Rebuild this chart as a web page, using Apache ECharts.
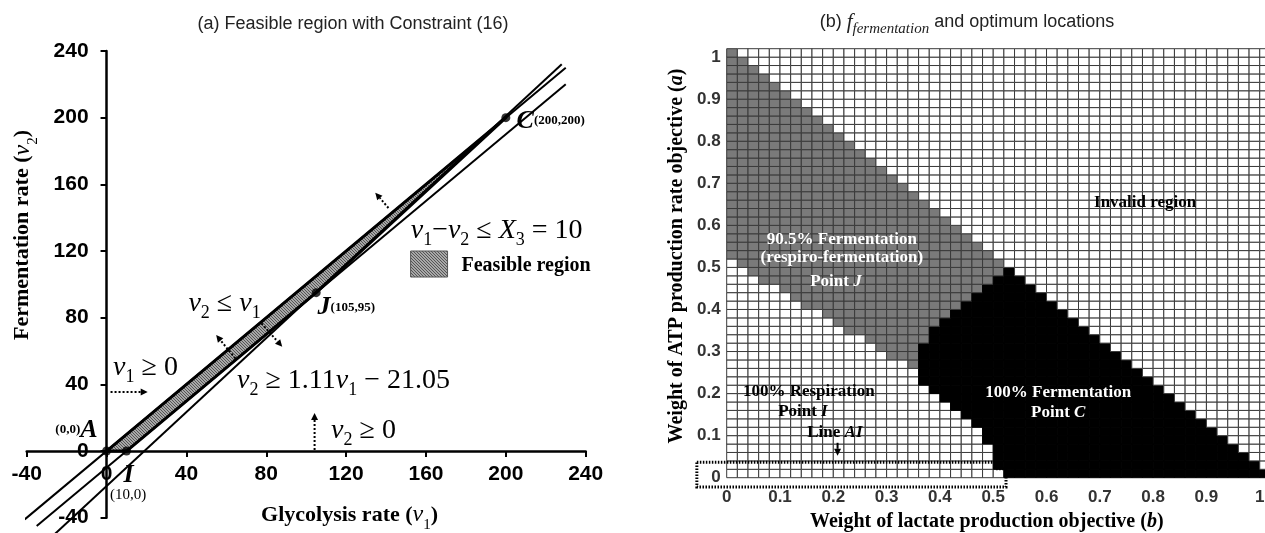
<!DOCTYPE html>
<html>
<head>
<meta charset="utf-8">
<script src="https://cdn.jsdelivr.net/npm/echarts@6/dist/echarts.min.js"></script>
<style>
  html, body { margin: 0; padding: 0; background: #fff; }
  #chart { width: 1265px; height: 533px; }
</style>
</head>
<body>
<div id="chart"></div>
<script>
// ---- panel (a): constraint lines, end points [v1, v2]
var lineV2EqV1 = [[-41, -41], [230, 230]];          // v2 = v1
var lineDiff10 = [[-35, -45], [230, 220]];          // v1 - v2 = 10
var lineSlope111 = [[-28, -52.1], [228, 232]];      // v2 = 1.11 v1 - 21.05
var feasibleRegion = [[0, 0], [10, 0], [105, 95], [200, 200]];
var keyPoints = [[0, 0], [10, 0], [105, 95], [200, 200]]; // A, I, J, C
var legendBox = [[152.3, 120], [170.8, 104.4]];

// ---- panel (b): 51 x 51 cells, weights 0 .. 1.00 in steps of 0.02
var weightStep = 0.02;
// per row (a = 0, 0.02, ... 1.00): last column inside a + b <= 1
var lastValidCol = [50, 49, 48, 47, 46, 45, 44, 43, 42, 41, 40, 39, 38, 37, 36, 35, 34,
  33, 32, 31, 30, 29, 28, 27, 26, 25, 24, 23, 22, 21, 20, 19, 18, 17, 16, 15, 14, 13,
  12, 11, 10, 9, 8, 7, 6, 5, 4, 3, 2, 1, 0];
// first column of the black (100% fermentation) cells, -1 = none
var blackFrom = [26, 25, 25, 25, 24, 24, 23, 22, 21, 20, 19, 18, 18, 18, 18, 18, 19, 19,
  20, 21, 22, 23, 24, 25, 26, -1, -1, -1, -1, -1, -1, -1, -1, -1, -1, -1, -1, -1, -1,
  -1, -1, -1, -1, -1, -1, -1, -1, -1, -1, -1, -1];
// first column of the grey (90.5% fermentation) cells, -1 = none
var greyFrom = [-1, -1, -1, -1, -1, -1, -1, -1, -1, -1, -1, -1, -1, 17, 15, 14, 13, 11,
  10, 9, 7, 6, 5, 3, 2, 1, 0, 0, 0, 0, 0, 0, 0, 0, 0, 0, 0, 0, 0, 0, 0, 0, 0, 0, 0, 0,
  0, 0, 0, 0, 0];
var lineAIFrame = [[-0.056, 0.037], [0.503, 0.037], [0.503, 0.021], [0.524, 0.021],
  [0.524, -0.022], [-0.056, -0.022]];

var cellColors = ['#ffffff', '#7a7a7a', '#000000', '#ffffff'];
var cells = [];
for (var i = 0; i < lastValidCol.length; i++) {
  for (var j = 0; j < lastValidCol.length; j++) {
    var cls = 0;                                   // respiration (white)
    if (j > lastValidCol[i]) cls = 3;              // invalid
    else if (blackFrom[i] >= 0 && j >= blackFrom[i]) cls = 2;
    else if (greyFrom[i] >= 0 && j >= greyFrom[i]) cls = 1;
    cells.push([j * weightStep, i * weightStep, cls]);
  }
}

// hatch used for the feasible region
var hatch = document.createElement('canvas');
hatch.width = 3; hatch.height = 3;
var hg = hatch.getContext('2d');
hg.fillStyle = '#a8a8a8'; hg.fillRect(0, 0, 3, 3);
hg.fillStyle = '#555'; hg.fillRect(0, 0, 1, 1); hg.fillRect(1, 1, 1, 1); hg.fillRect(2, 2, 1, 1);
var hatchFill = { image: hatch, repeat: 'repeat' };

var serif = 'Liberation Serif';
var rich = {
  m:   { fontFamily: serif, fontSize: 28, fill: '#000', verticalAlign: 'middle', lineHeight: 30 },
  mi:  { fontFamily: serif, fontSize: 28, fontStyle: 'italic', fill: '#000', verticalAlign: 'middle', lineHeight: 30 },
  ms:  { fontFamily: serif, fontSize: 18, fill: '#000', verticalAlign: 'bottom', lineHeight: 36 },
  b:   { fontFamily: serif, fontSize: 20, fontWeight: 'bold', fill: '#000', verticalAlign: 'middle' },
  bi:  { fontFamily: serif, fontSize: 26, fontWeight: 'bold', fontStyle: 'italic', fill: '#000', verticalAlign: 'middle' },
  bs:  { fontFamily: serif, fontSize: 13, fontWeight: 'bold', fill: '#000', verticalAlign: 'middle' },
  sm:  { fontFamily: serif, fontSize: 15, fill: '#000', verticalAlign: 'middle' },
  an:  { fontFamily: serif, fontSize: 22, fontWeight: 'bold', fill: '#000', verticalAlign: 'middle', lineHeight: 28 },
  ani: { fontFamily: serif, fontSize: 24, fontStyle: 'italic', fill: '#000', verticalAlign: 'middle', lineHeight: 28 },
  ans: { fontFamily: serif, fontSize: 15, fill: '#000', verticalAlign: 'bottom', lineHeight: 36 },
  k:   { fontFamily: serif, fontSize: 17, fontWeight: 'bold', fill: '#000', verticalAlign: 'middle' },
  ki:  { fontFamily: serif, fontSize: 17, fontWeight: 'bold', fontStyle: 'italic', fill: '#000', verticalAlign: 'middle' },
  w:   { fontFamily: serif, fontSize: 17, fontWeight: 'bold', fill: '#fff', verticalAlign: 'middle' },
  wi:  { fontFamily: serif, fontSize: 17, fontWeight: 'bold', fontStyle: 'italic', fill: '#fff', verticalAlign: 'middle' },
  k2:  { fontFamily: serif, fontSize: 20, fontWeight: 'bold', fill: '#000', verticalAlign: 'middle' },
  ki2: { fontFamily: serif, fontSize: 20, fontWeight: 'bold', fontStyle: 'italic', fill: '#000', verticalAlign: 'middle' }
};

var notesA = [
  { at: [59.1, 88.2], text: '{mi|v}{ms|2}{m| ≤ }{mi|v}{ms|1}' },
  { at: [19.5, 49.8], text: '{mi|v}{ms|1}{m| ≥ 0}' },
  { at: [118.7, 42.0], text: '{mi|v}{ms|2}{m| ≥ 1.11}{mi|v}{ms|1}{m| − 21.05}' },
  { at: [128.7, 12.0], text: '{mi|v}{ms|2}{m| ≥ 0}' },
  { at: [195.4, 132.0], text: '{mi|v}{ms|1}{m|−}{mi|v}{ms|2}{m| ≤ }{mi|X}{ms|3}{m| = 10}' },
  { at: [177.8, 111.0], text: '{b|Feasible region}', align: 'left' },
  { at: [205.4, 198.0], text: '{bi|C}{bs|(200,200)}', align: 'left' },
  { at: [105.7, 86.0], text: '{bi|J}{bs|(105,95)}', align: 'left' },
  { at: [-4.5, 12.6], text: '{bs|(0,0)}{bi|A}', align: 'right' },
  { at: [11.0, -14.4], text: '{bi|I}' },
  { at: [10.8, -26.4], text: '{sm|(10,0)}' },
  { at: [121.7, -38.4], text: '{an|Glycolysis rate (}{ani|v}{ans|1}{an|)}' },
  { at: [-42.1, 129.6], text: '{an|Fermentation rate (}{ani|v}{ans|2}{an|)}', rotate: true }
];
var notesB = [
  { at: [0.785, 0.653], text: '{k|Invalid region}' },
  { at: [0.216, 0.567], text: '{w|90.5% Fermentation}' },
  { at: [0.216, 0.524], text: '{w|(respiro-fermentation)}' },
  { at: [0.205, 0.467], text: '{w|Point }{wi|J}' },
  { at: [0.154, 0.2045], text: '{k|100% Respiration}' },
  { at: [0.143, 0.157], text: '{k|Point }{ki|I}' },
  { at: [0.203, 0.107], text: '{k|Line }{ki|AI}' },
  { at: [0.622, 0.202], text: '{w|100% Fermentation}' },
  { at: [0.622, 0.154], text: '{w|Point }{wi|C}' },
  { at: [-0.0932, 0.527], text: '{k2|Weight of ATP production rate objective (}{ki2|a}{k2|)}', rotate: true },
  { at: [0.488, -0.106], text: '{k2|Weight of lactate production objective (}{ki2|b}{k2|)}' }
];
var arrowsA = [
  { from: [2.0, 35.4], to: [20.6, 35.4] },
  { from: [104.2, 0.6], to: [104.2, 22.8] },
  { from: [64.5, 55.6], to: [54.9, 69.6] },
  { from: [77.6, 76.6], to: [88.0, 62.6] },
  { from: [141.2, 145.8], to: [134.6, 155.0] }
];
var arrowsB = [
  { from: [0.208, 0.083], to: [0.208, 0.052], solid: true }
];

function noteRenderer(list) {
  return function (params, api) {
    var n = list[params.dataIndex];
    var p = api.coord(n.at);
    var al = n.align || 'center';
    return {
      type: 'text', x: p[0], y: p[1], rotation: n.rotate ? Math.PI / 2 : 0,
      style: {
        x: 0, y: 0, text: n.text, rich: rich,
        align: al, textAlign: al, verticalAlign: 'middle', textVerticalAlign: 'middle'
      }
    };
  };
}

function arrowRenderer(list) {
  return function (params, api) {
    var s = list[params.dataIndex];
    var p0 = api.coord(s.from), p1 = api.coord(s.to);
    var ang = Math.atan2(p1[1] - p0[1], p1[0] - p0[0]);
    var h = 7, w = 3.5;
    var bx = p1[0] - h * Math.cos(ang), by = p1[1] - h * Math.sin(ang);
    return {
      type: 'group',
      children: [
        { type: 'line', shape: { x1: p0[0], y1: p0[1], x2: bx, y2: by },
          style: { stroke: '#000', lineWidth: 2, lineDash: s.solid ? null : [2, 2] } },
        { type: 'polygon', shape: { points: [[p1[0], p1[1]],
            [bx + w * Math.sin(ang), by - w * Math.cos(ang)],
            [bx - w * Math.sin(ang), by + w * Math.cos(ang)]] },
          style: { fill: '#000' } }
      ]
    };
  };
}

function lineSeries(data) {
  return {
    type: 'line', xAxisIndex: 0, yAxisIndex: 0, data: data, symbol: 'none',
    clip: false, silent: true, z: 4,
    lineStyle: { color: '#000', width: 2 }
  };
}

var tickFont = { fontFamily: 'Liberation Sans', fontWeight: 'bold', fontSize: 21, color: '#000' };
// left panel plot box: 559 x 466.7 px for 280 units; axes cross at (0, 0)
var gridA = { left: 26.7, top: 51, width: 559, height: 466.7 };
var yAxisShift = -gridA.width / 280 * 40;    // move v2 axis from v1 = -40 to v1 = 0
var xAxisShift = -gridA.height / 280 * 40;   // move v1 axis from v2 = -40 to v2 = 0

var chart = echarts.init(document.getElementById('chart'));
chart.setOption({
  animation: false,
  backgroundColor: '#fff',
  title: [
    { text: '(a) Feasible region with Constraint (16)', left: 348, top: 10, textAlign: 'center',
      textStyle: { fontFamily: 'Liberation Sans', fontSize: 18, fontWeight: 'normal', color: '#222' } },
    { text: '(b) {f|f}{s|fermentation} and optimum locations', left: 962, top: 2, textAlign: 'center',
      textStyle: { fontFamily: 'Liberation Sans', fontSize: 18, fontWeight: 'normal', color: '#222',
        rich: {
          f: { fontFamily: serif, fontStyle: 'italic', fontSize: 21, color: '#222', verticalAlign: 'middle', lineHeight: 24 },
          s: { fontFamily: serif, fontStyle: 'italic', fontSize: 15, color: '#222', verticalAlign: 'bottom', lineHeight: 30 }
        } } }
  ],
  grid: [
    Object.assign({ outerBoundsMode: 'none' }, gridA),
    { left: 726.7, top: 48.7, width: 543.7, height: 429, outerBoundsMode: 'none' }
  ],
  xAxis: [
    { gridIndex: 0, type: 'value', min: -40, max: 240, interval: 40, position: 'bottom', offset: xAxisShift,
      axisLine: { onZero: false, lineStyle: { color: '#000', width: 2.5 } },
      axisTick: { length: 6, lineStyle: { color: '#000', width: 2 } },
      axisLabel: Object.assign({ margin: 13 }, tickFont),
      splitLine: { show: false } },
    { gridIndex: 1, type: 'value', min: 0, max: 1.02, interval: 0.1,
      axisLine: { show: false }, axisTick: { show: false }, splitLine: { show: false },
      axisLabel: { margin: 11, showMaxLabel: false, fontFamily: 'Liberation Sans', fontWeight: 'bold',
        fontSize: 17, color: '#333' } }
  ],
  yAxis: [
    { gridIndex: 0, type: 'value', min: -40, max: 240, interval: 40, position: 'left', offset: yAxisShift,
      axisLine: { onZero: false, lineStyle: { color: '#000', width: 2.5 } },
      axisTick: { length: 6, lineStyle: { color: '#000', width: 2 } },
      axisLabel: Object.assign({ margin: 18 }, tickFont),
      splitLine: { show: false } },
    { gridIndex: 1, type: 'value', min: 0, max: 1.02, interval: 0.1,
      axisLine: { show: false }, axisTick: { show: false }, splitLine: { show: false },
      axisLabel: { margin: 6, showMaxLabel: false, fontFamily: 'Liberation Sans', fontWeight: 'bold',
        fontSize: 17, color: '#333' } }
  ],
  series: [
    // feasible region
    { type: 'custom', xAxisIndex: 0, yAxisIndex: 0, clip: false, silent: true, z: 3,
      data: [feasibleRegion[0]],
      renderItem: function (params, api) {
        return { type: 'polygon',
          shape: { points: feasibleRegion.map(function (p) { return api.coord(p); }) },
          style: { fill: hatchFill, stroke: '#000', lineWidth: 3, lineJoin: 'round' } };
      } },
    // legend swatch
    { type: 'custom', xAxisIndex: 0, yAxisIndex: 0, clip: false, silent: true, z: 3,
      data: [legendBox[0]],
      renderItem: function (params, api) {
        var p0 = api.coord(legendBox[0]), p1 = api.coord(legendBox[1]);
        return { type: 'rect', shape: { x: p0[0], y: p0[1], width: p1[0] - p0[0], height: p1[1] - p0[1] },
          style: { fill: hatchFill, stroke: '#555', lineWidth: 1 } };
      } },
    lineSeries(lineV2EqV1),
    lineSeries(lineDiff10),
    lineSeries(lineSlope111),
    { type: 'scatter', xAxisIndex: 0, yAxisIndex: 0, data: keyPoints, symbolSize: 9, z: 6,
      itemStyle: { color: '#000' }, silent: true },
    { type: 'custom', xAxisIndex: 0, yAxisIndex: 0, clip: false, silent: true, z: 7,
      data: arrowsA.map(function (a) { return a.from; }), renderItem: arrowRenderer(arrowsA) },
    { type: 'custom', xAxisIndex: 0, yAxisIndex: 0, clip: false, silent: true, z: 8,
      data: notesA.map(function (n) { return n.at; }), renderItem: noteRenderer(notesA) },

    // panel (b) cells
    { type: 'custom', xAxisIndex: 1, yAxisIndex: 1, clip: false, silent: true, z: 2,
      data: cells,
      renderItem: function (params, api) {
        var b = api.value(0), a = api.value(1), cls = api.value(2);
        var p0 = api.coord([b, a + weightStep]);
        var p1 = api.coord([b + weightStep, a]);
        return { type: 'rect',
          shape: { x: p0[0], y: p0[1], width: p1[0] - p0[0], height: p1[1] - p0[1] },
          style: { fill: cellColors[cls], stroke: cls === 2 ? '#000' : '#3a3a3a', lineWidth: 1 } };
      } },
    { type: 'custom', xAxisIndex: 1, yAxisIndex: 1, clip: false, silent: true, z: 5,
      data: [lineAIFrame[0]],
      renderItem: function (params, api) {
        return { type: 'polygon',
          shape: { points: lineAIFrame.map(function (p) { return api.coord(p); }) },
          style: { fill: null, stroke: '#000', lineWidth: 3, lineDash: [1.5, 1.5] } };
      } },
    { type: 'custom', xAxisIndex: 1, yAxisIndex: 1, clip: false, silent: true, z: 7,
      data: arrowsB.map(function (a) { return a.from; }), renderItem: arrowRenderer(arrowsB) },
    { type: 'custom', xAxisIndex: 1, yAxisIndex: 1, clip: false, silent: true, z: 8,
      data: notesB.map(function (n) { return n.at; }), renderItem: noteRenderer(notesB) }
  ]
});
</script>
</body>
</html>
